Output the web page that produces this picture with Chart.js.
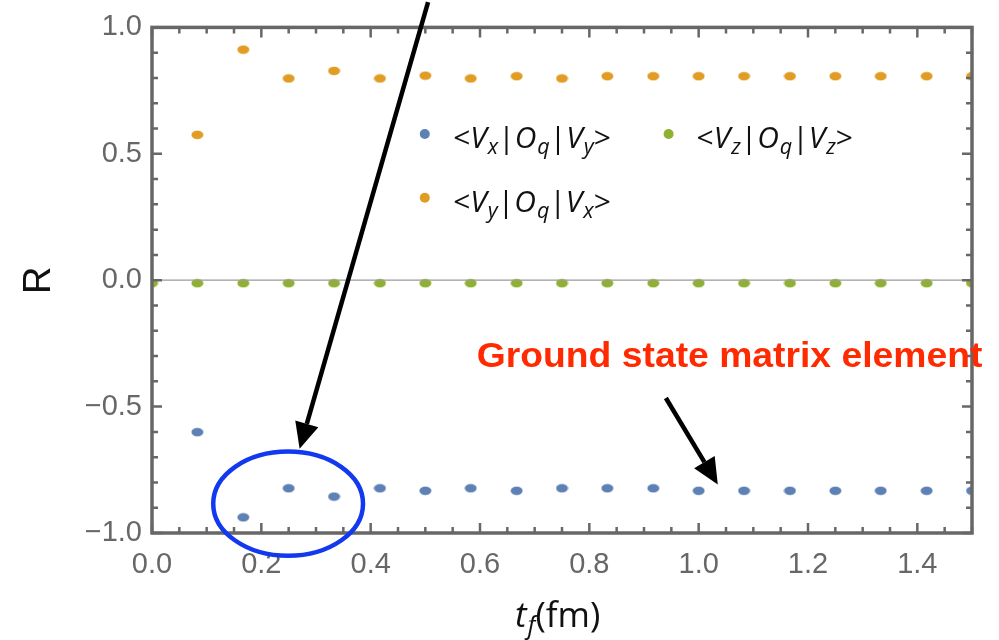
<!DOCTYPE html>
<html>
<head>
<meta charset="utf-8">
<script src="https://cdn.jsdelivr.net/npm/chart.js@4.4.1/dist/chart.umd.min.js"></script>
<style>
  html, body { margin: 0; padding: 0; background: #fff; }
  #wrap { width: 999px; height: 640px; }
</style>
</head>
<body>
<div id="wrap"><canvas id="chart" width="999" height="640"></canvas></div>
<script>
// t_f values (fm)
const tf = [0.083, 0.167, 0.25, 0.333, 0.417, 0.5, 0.583, 0.667, 0.75, 0.833, 0.917, 1.0, 1.083, 1.167, 1.25, 1.333, 1.417, 1.5];
const tfZ = [0.0, 0.083, 0.167, 0.25, 0.333, 0.417, 0.5, 0.583, 0.667, 0.75, 0.833, 0.917, 1.0, 1.083, 1.167, 1.25, 1.333, 1.417, 1.5];

// <Vx|Oq|Vy>
const rXY = [-0.601, -0.938, -0.823, -0.856, -0.823, -0.833, -0.823, -0.833, -0.823, -0.823, -0.823, -0.833, -0.833, -0.833, -0.833, -0.833, -0.833, -0.833];
// <Vy|Oq|Vx>
const rYX = [0.575, 0.912, 0.798, 0.828, 0.798, 0.809, 0.798, 0.807, 0.798, 0.807, 0.807, 0.807, 0.807, 0.807, 0.807, 0.807, 0.807, 0.807];
// <Vz|Oq|Vz>
const rZZ = [-0.012, -0.012, -0.012, -0.012, -0.012, -0.012, -0.012, -0.012, -0.012, -0.012, -0.012, -0.012, -0.012, -0.012, -0.012, -0.012, -0.012, -0.012, -0.012];

const xTicks = [0.0, 0.2, 0.4, 0.6, 0.8, 1.0, 1.2, 1.4];
const yTicks = [-1.0, -0.5, 0.0, 0.5, 1.0];

const BLUE = '#5e81b5', ORANGE = '#e19c24', GREEN = '#8fb032';
const AXIS = '#676767';

function dot(color) {
  const c = document.createElement('canvas');
  c.width = 13; c.height = 10;
  const g = c.getContext('2d');
  g.fillStyle = color;
  g.beginPath();
  g.ellipse(6.5, 5, 6, 4.2, 0, 0, Math.PI * 2);
  g.fill();
  return c;
}

function pts(xs, ys) {
  return xs.map((x, i) => ({ x: x, y: ys[i] }));
}

// rich text: [text, italic, sub]
function drawRich(ctx, x, y, parts, size, fam) {
  parts.forEach(p => {
    const s = p[2] ? size * 0.72 : size;
    ctx.font = (p[1] ? 'italic ' : '') + s + 'px ' + fam;
    ctx.fillText(p[0], x, p[2] ? y + size * 0.2 : y);
    x += ctx.measureText(p[0]).width + (p[1] && !p[2] ? 1 : 0);
  });
}

function bra(a, b) {
  return [['<', false, false], ['V', true, false], [a, true, true], ['|', false, false],
          ['O', true, false], ['q', true, true], ['|', false, false],
          ['V', true, false], [b, true, true], ['>', false, false]];
}

function arrow(ctx, x1, y1, x2, y2) {
  const ang = Math.atan2(y2 - y1, x2 - x1);
  const hl = 26, hw = 12;
  const bx = x2 - hl * Math.cos(ang), by = y2 - hl * Math.sin(ang);
  ctx.strokeStyle = '#000';
  ctx.lineWidth = 4.5;
  ctx.beginPath();
  ctx.moveTo(x1, y1);
  ctx.lineTo(bx, by);
  ctx.stroke();
  ctx.fillStyle = '#000';
  ctx.beginPath();
  ctx.moveTo(x2, y2);
  ctx.lineTo(bx + hw * Math.sin(ang), by - hw * Math.cos(ang));
  ctx.lineTo(bx - hw * Math.sin(ang), by + hw * Math.cos(ang));
  ctx.closePath();
  ctx.fill();
}

const LEG_FONT = '"Open Sans", Lato, sans-serif';

const framePlugin = {
  id: 'frame',
  afterDraw(chart) {
    const { ctx, chartArea: a, scales: { x, y } } = chart;
    ctx.save();

    // zero line
    const y0 = y.getPixelForValue(0);
    ctx.strokeStyle = '#9a9a9a';
    ctx.lineWidth = 1.2;
    ctx.beginPath();
    ctx.moveTo(a.left, y0);
    ctx.lineTo(a.right, y0);
    ctx.stroke();

    // inward ticks on all four sides
    ctx.strokeStyle = AXIS;
    ctx.lineWidth = 2.5;
    ctx.beginPath();
    for (let v = 0; v <= 1.5001; v += 0.05) {
      const px = x.getPixelForValue(v);
      const major = Math.abs(v / 0.2 - Math.round(v / 0.2)) < 1e-6;
      const len = major ? 10 : 6;
      ctx.moveTo(px, a.bottom); ctx.lineTo(px, a.bottom - len);
      ctx.moveTo(px, a.top); ctx.lineTo(px, a.top + len);
    }
    for (let v = -1; v <= 1.0001; v += 0.1) {
      const py = y.getPixelForValue(v);
      const major = Math.abs(v / 0.5 - Math.round(v / 0.5)) < 1e-6;
      const len = major ? 10 : 6;
      ctx.moveTo(a.left, py); ctx.lineTo(a.left + len, py);
      ctx.moveTo(a.right, py); ctx.lineTo(a.right - len, py);
    }
    ctx.stroke();

    // frame
    ctx.lineWidth = 3.5;
    ctx.strokeRect(a.left, a.top, a.right - a.left, a.bottom - a.top);

    // axis titles
    ctx.fillStyle = '#111';
    ctx.save();
    ctx.translate(40, y0);
    ctx.rotate(-Math.PI / 2);
    ctx.font = '38px "Liberation Sans", Arial, sans-serif';
    ctx.textAlign = 'center';
    ctx.textBaseline = 'middle';
    ctx.fillText('R', 0, 0);
    ctx.restore();
    ctx.textBaseline = 'alphabetic';
    drawRich(ctx, 515, 627, [['t', true, false], ['f', true, true], ['(fm)', false, false]], 35, LEG_FONT);

    // legend
    ctx.fillStyle = BLUE;
    ctx.beginPath(); ctx.arc(x.getPixelForValue(0.499), y.getPixelForValue(0.578), 5, 0, Math.PI * 2); ctx.fill();
    ctx.fillStyle = GREEN;
    ctx.beginPath(); ctx.arc(x.getPixelForValue(0.945), y.getPixelForValue(0.578), 5, 0, Math.PI * 2); ctx.fill();
    ctx.fillStyle = ORANGE;
    ctx.beginPath(); ctx.arc(x.getPixelForValue(0.499), y.getPixelForValue(0.326), 5, 0, Math.PI * 2); ctx.fill();
    ctx.fillStyle = '#111';
    drawRich(ctx, x.getPixelForValue(0.551), y.getPixelForValue(0.523), bra('x', 'y'), 30, LEG_FONT);
    drawRich(ctx, x.getPixelForValue(0.996), y.getPixelForValue(0.523), bra('z', 'z'), 30, LEG_FONT);
    drawRich(ctx, x.getPixelForValue(0.551), y.getPixelForValue(0.27), bra('y', 'x'), 30, LEG_FONT);

    // annotations
    arrow(ctx, x.getPixelForValue(0.505), y.getPixelForValue(1.1), x.getPixelForValue(0.27), y.getPixelForValue(-0.667));
    arrow(ctx, x.getPixelForValue(0.940), y.getPixelForValue(-0.466), x.getPixelForValue(1.035), y.getPixelForValue(-0.808));

    ctx.strokeStyle = '#1238f0';
    ctx.lineWidth = 4.5;
    const cx = x.getPixelForValue(0.249), cy = y.getPixelForValue(-0.884);
    ctx.beginPath();
    ctx.ellipse(cx, cy, x.getPixelForValue(0.137) - x.getPixelForValue(0), y.getPixelForValue(0) - y.getPixelForValue(0.206), 0, 0, Math.PI * 2);
    ctx.stroke();

    // red label, stretched to the reference width
    const lx = x.getPixelForValue(0.594), rx = x.getPixelForValue(1.519);
    ctx.fillStyle = '#ff2a00';
    ctx.font = 'bold 35px "Liberation Sans", Arial, sans-serif';
    const txt = 'Ground state matrix element';
    const k = (rx - lx) / ctx.measureText(txt).width;
    ctx.save();
    ctx.translate(lx, y.getPixelForValue(-0.345));
    ctx.scale(k, 1);
    ctx.fillText(txt, 0, 0);
    ctx.restore();

    ctx.restore();
  }
};

new Chart(document.getElementById('chart'), {
  type: 'scatter',
  data: {
    datasets: [
      { label: '<Vx|Oq|Vy>', data: pts(tf, rXY), pointStyle: dot(BLUE), backgroundColor: BLUE, clip: 0 },
      { label: '<Vy|Oq|Vx>', data: pts(tf, rYX), pointStyle: dot(ORANGE), backgroundColor: ORANGE, clip: 0 },
      { label: '<Vz|Oq|Vz>', data: pts(tfZ, rZZ), pointStyle: dot(GREEN), backgroundColor: GREEN, clip: 0 }
    ]
  },
  options: {
    responsive: false,
    animation: false,
    events: [],
    layout: { padding: { left: 0, top: 25, right: 27, bottom: 0 } },
    plugins: { legend: { display: false }, tooltip: { enabled: false } },
    scales: {
      x: {
        type: 'linear', min: 0, max: 1.5,
        grid: { display: false, drawTicks: false },
        border: { display: false },
        afterBuildTicks: s => { s.ticks = xTicks.map(v => ({ value: v })); },
        afterFit: s => { s.height = 107; },
        ticks: {
          padding: 15, color: AXIS,
          font: { family: '"Liberation Sans", Arial, sans-serif', size: 29 },
          callback: v => v.toFixed(1)
        }
      },
      y: {
        type: 'linear', min: -1, max: 1,
        grid: { display: false, drawTicks: false },
        border: { display: false },
        afterBuildTicks: s => { s.ticks = yTicks.map(v => ({ value: v })); },
        afterFit: s => { s.width = 152; },
        ticks: {
          padding: 10, color: AXIS,
          font: { family: '"Liberation Sans", Arial, sans-serif', size: 29 },
          callback: v => v.toFixed(1).replace('-', '\u2212')
        }
      }
    }
  },
  plugins: [framePlugin]
});
</script>
</body>
</html>
